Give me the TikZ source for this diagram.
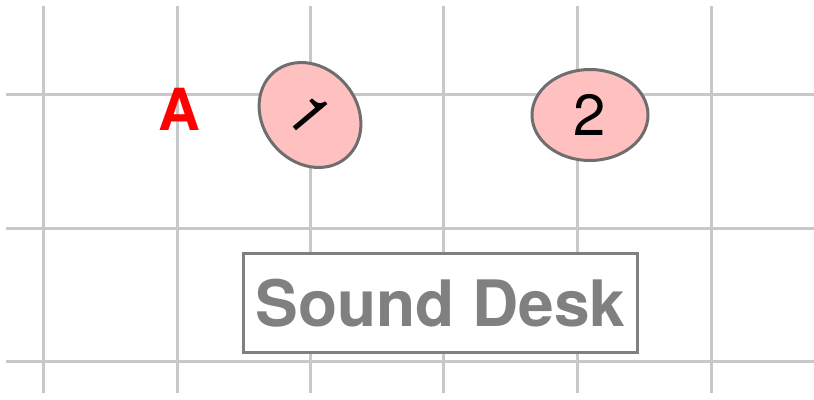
\documentclass[tikz,border=0pt]{standalone}
\usepackage{fontspec}
\setmainfont{TeX Gyre Heros}
\usetikzlibrary{shapes.geometric}
\definecolor{gridgray}{HTML}{C8C8C8}
\definecolor{edgegray}{HTML}{6E6E6E}
\definecolor{pinkfill}{HTML}{FFC0C0}
\definecolor{labelgray}{HTML}{808080}
\tikzset{
  gridline/.style={draw=gridgray, line width=3pt},
  blob/.style={ellipse, draw=edgegray, line width=3pt, fill=pinkfill, inner sep=0pt,
    font=\fontsize{58}{60}\selectfont, text=black},
  deskbox/.style={draw=labelgray, line width=3.5pt, fill=white, inner sep=0pt,
    minimum width=394pt, minimum height=99pt,
    font=\bfseries\fontsize{64}{66}\selectfont, text=labelgray},
  rowlabel/.style={text=red, font=\bfseries\fontsize{58}{60}\selectfont, inner sep=0pt}
}
\begin{document}
\begin{tikzpicture}[x=1pt, y=-1pt]
\useasboundingbox (0,0) rectangle (814,399);
\fill[white] (0,0) rectangle (814,399);
% grid
\foreach \gx in {43,177,310,443,577,711} {
  \draw[gridline] (\gx,6) -- (\gx,393);
}
\foreach \gy in {94,228,361} {
  \draw[gridline] (6,\gy) -- (814,\gy);
}
\node[rowlabel] (rowA) at (179,109) {A};
\node[blob, minimum width=112pt, minimum height=94pt, rotate=-50] (seat1) at (310,115) {1};
\node[blob, minimum width=116pt, minimum height=91pt] (seat2) at (590,115) {2};
\node[deskbox] (desk) at (440.5,303) {Sound Desk};
\end{tikzpicture}
\end{document}
